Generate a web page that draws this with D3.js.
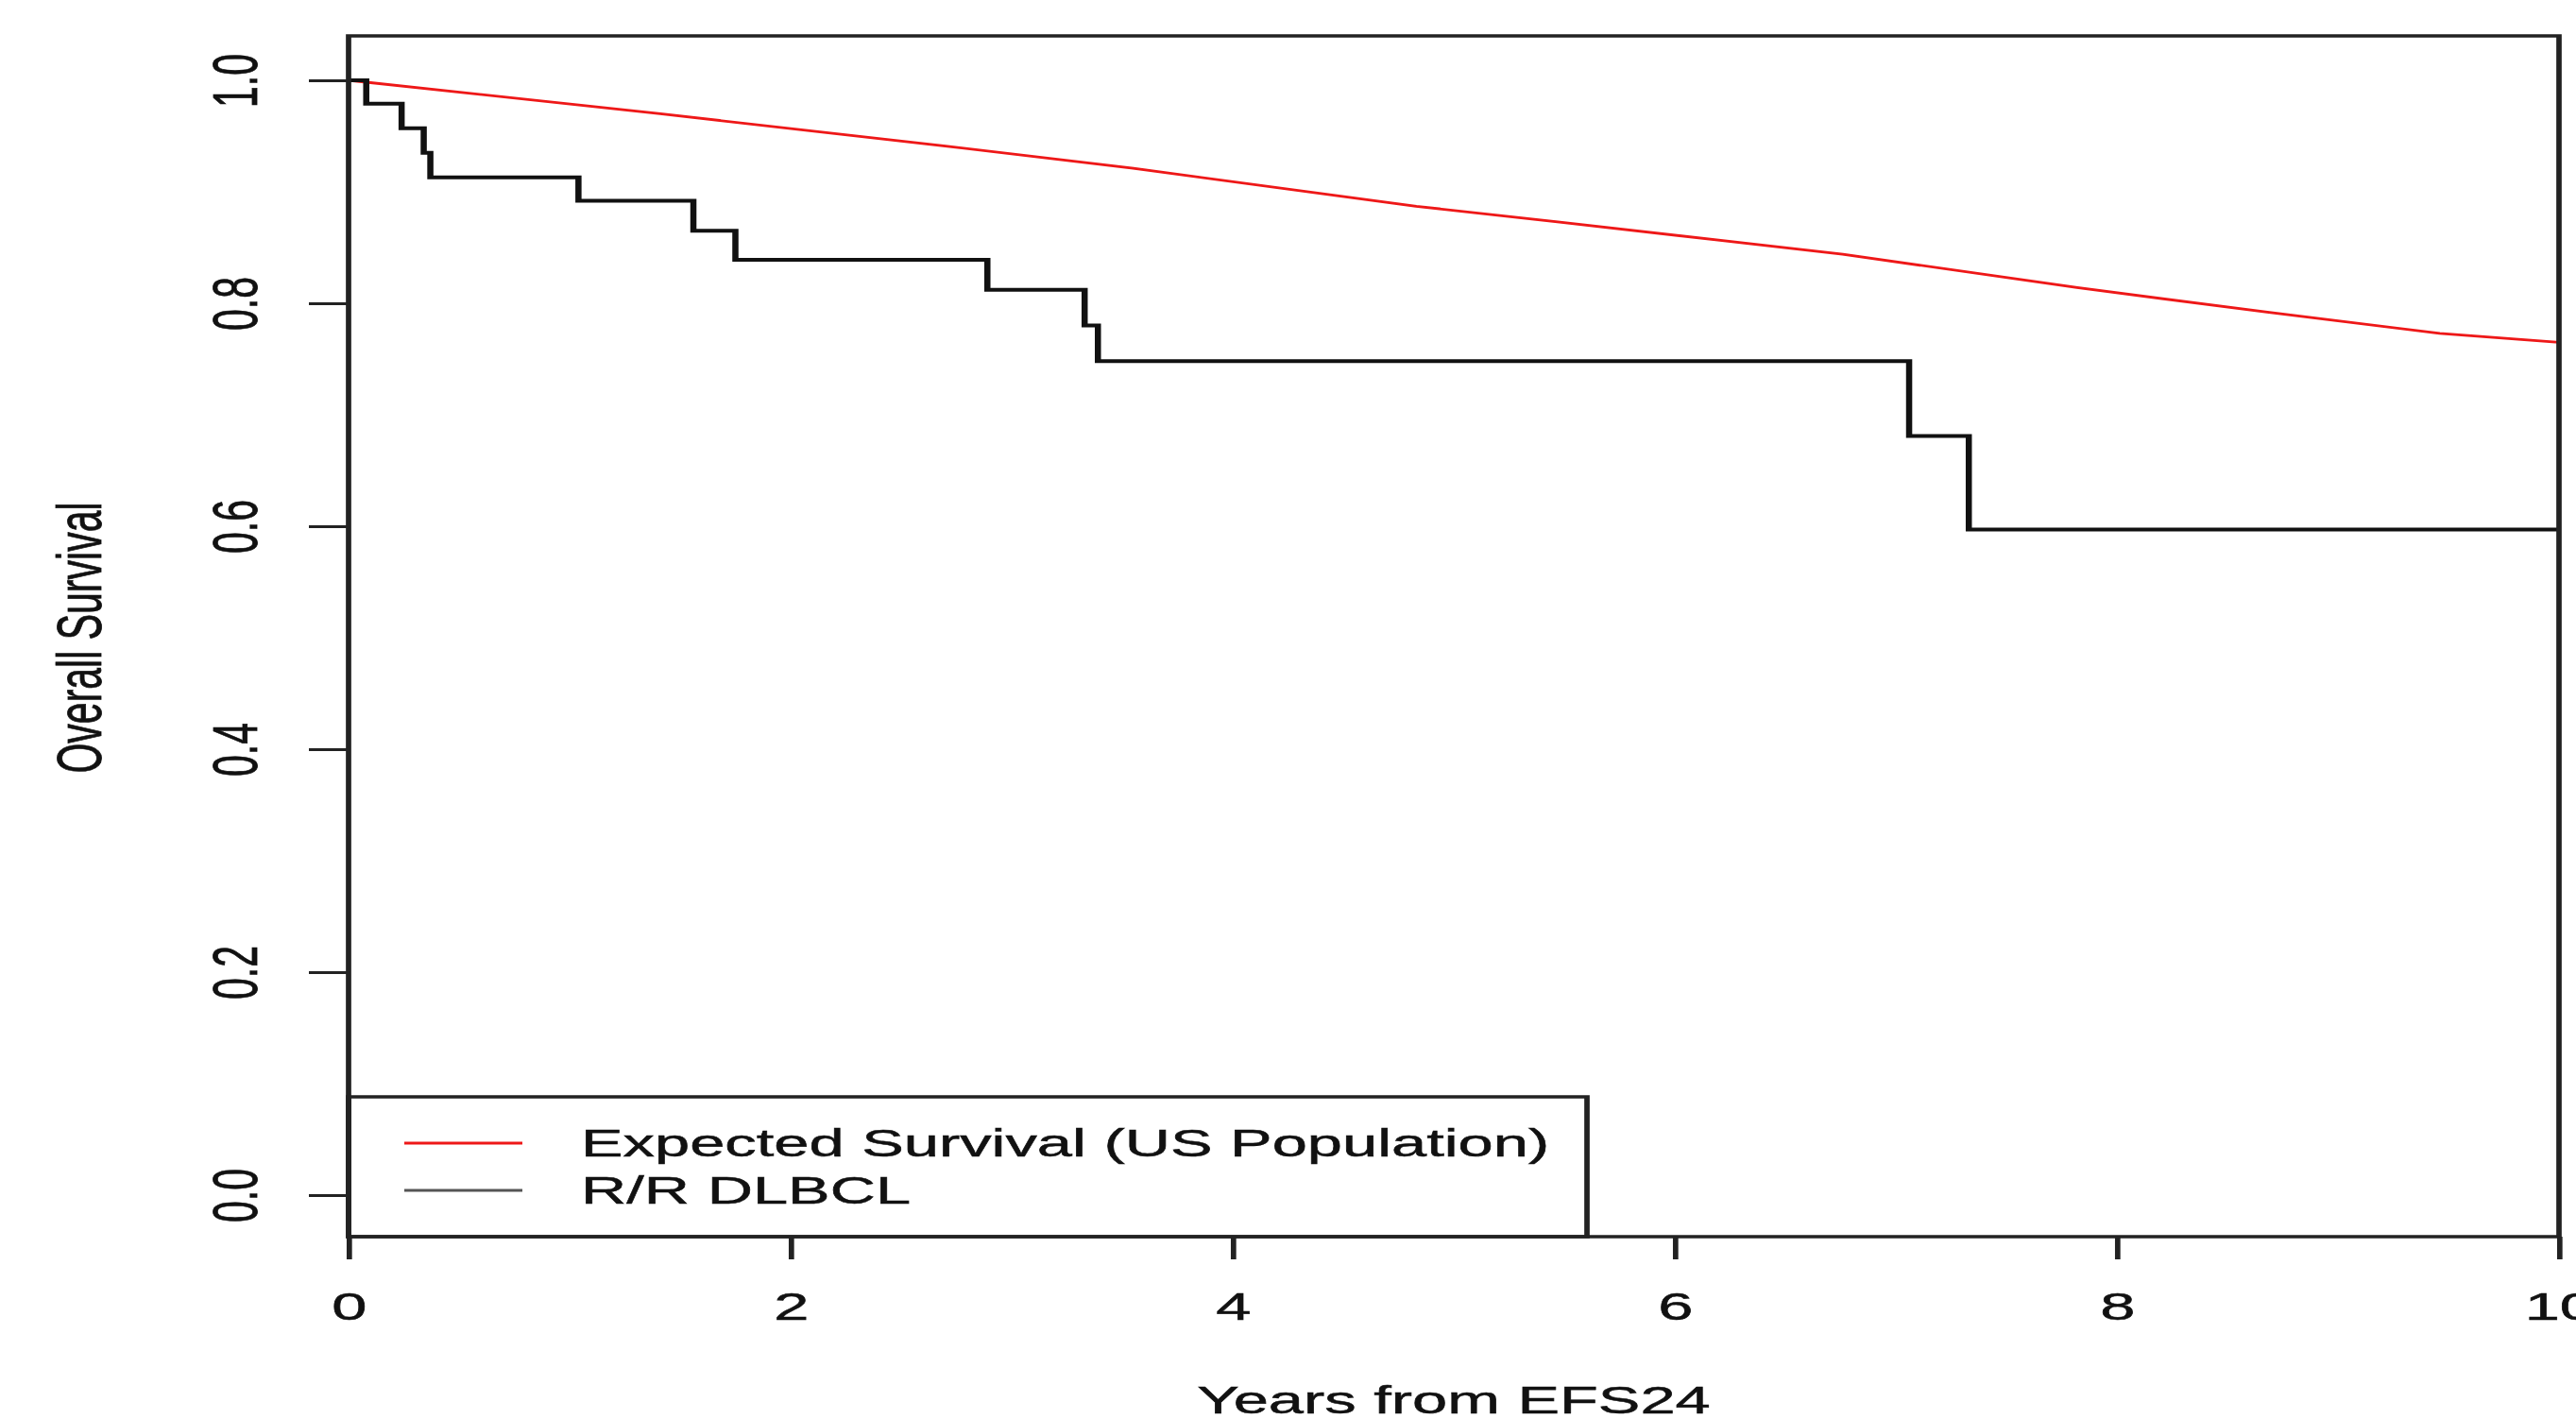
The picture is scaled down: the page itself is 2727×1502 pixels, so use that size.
<!DOCTYPE html>
<html>
<head>
<meta charset="utf-8">
<script src="https://cdn.jsdelivr.net/npm/d3@7"></script>
<style>
  body { margin: 0; background: #fff; }
  text { font-family: "Liberation Sans", Arial, sans-serif; fill: #111; stroke: #111; stroke-width: 0.5px; }
</style>
</head>
<body>
<div id="chart"></div>
<script>
// KM curve for R/R DLBCL (step after)
var kmYears = [0, 0.08, 0.24, 0.34, 0.37, 1.04, 1.56, 1.75, 2.89, 3.33, 3.39, 7.06, 7.33, 10];
var kmSurvival = [1.0, 0.979, 0.957, 0.935, 0.913, 0.892, 0.865, 0.839, 0.812, 0.780, 0.748, 0.681, 0.597, 0.597];

// expected survival, US population
var expYears = [0, 1.41, 2.70, 3.55, 4.83, 5.47, 6.76, 7.82, 8.68, 9.46, 10];
var expSurvival = [1.0, 0.970, 0.941, 0.921, 0.887, 0.873, 0.844, 0.814, 0.792, 0.773, 0.765];

var xTicks = [0, 2, 4, 6, 8, 10];
var yTicks = [0, 0.2, 0.4, 0.6, 0.8, 1.0];
var legendLabels = ["Expected Survival (US Population)", "R/R DLBCL"];
var legendColors = ["#ee1818", "#555"];

var svgWidth = 2727,
    svgHeight = 1502;

// the picture is stretched sideways, so draw in a squeezed frame and scale x back
var SX = 1.63;
var fontSize = 41;

var box = { left: 369, right: 2709, top: 38, bottom: 1309 };

var svg = d3.select("#chart")
    .append("svg")
    .attr("width", svgWidth)
    .attr("height", svgHeight);

var g = svg.append("g")
    .attr("transform", "scale(" + SX + ",1)");

var xScale = d3.scaleLinear()
    .domain([0, 10])
    .range([box.left / SX, box.right / SX]);

var yScale = d3.scaleLinear()
    .domain([0, 1])
    .range([1265, 85]);

// lines
var kmData = kmYears.map((d, i) => ({ t: d, s: kmSurvival[i] }));
var expData = expYears.map((d, i) => ({ t: d, s: expSurvival[i] }));

var kmLine = d3.line()
    .x(d => xScale(d.t))
    .y(d => yScale(d.s))
    .curve(d3.curveStepAfter);

var expLine = d3.line()
    .x(d => xScale(d.t))
    .y(d => yScale(d.s));

g.append("path")
    .attr("d", expLine(expData))
    .attr("fill", "none")
    .attr("stroke", legendColors[0])
    .attr("stroke-width", 2.8);

g.append("path")
    .attr("d", kmLine(kmData))
    .attr("fill", "none")
    .attr("stroke", "#111")
    .attr("stroke-width", 4);

// legend
var legendBox = { left: 369, right: 1680, top: 1161, bottom: 1309 };
var legendRows = [1210, 1260];

g.append("rect")
    .attr("x", legendBox.left / SX)
    .attr("y", legendBox.top)
    .attr("width", (legendBox.right - legendBox.left) / SX)
    .attr("height", legendBox.bottom - legendBox.top)
    .attr("fill", "#fff")
    .attr("stroke", "#222")
    .attr("stroke-width", 3.5);

legendLabels.forEach(function(lab, i) {
    g.append("line")
        .attr("x1", 428 / SX)
        .attr("x2", 553 / SX)
        .attr("y1", legendRows[i])
        .attr("y2", legendRows[i])
        .attr("stroke", legendColors[i])
        .attr("stroke-width", 3);
    g.append("text")
        .attr("x", 615 / SX)
        .attr("y", legendRows[i])
        .attr("dominant-baseline", "central")
        .style("font-size", fontSize + "px")
        .text(lab);
});

// plot box
g.append("rect")
    .attr("x", box.left / SX)
    .attr("y", box.top)
    .attr("width", (box.right - box.left) / SX)
    .attr("height", box.bottom - box.top)
    .attr("fill", "none")
    .attr("stroke", "#222")
    .attr("stroke-width", 3.5);

// axes
var bottomAxis = d3.axisBottom(xScale)
    .tickValues(xTicks)
    .tickSize(24)
    .tickFormat(d3.format("d"));

var xAxis = g.append("g")
    .attr("transform", "translate(0," + box.bottom + ")")
    .call(bottomAxis);
xAxis.select(".domain").remove();
xAxis.selectAll("line").attr("stroke", "#222").attr("stroke-width", 3.5);
xAxis.selectAll("text")
    .attr("dy", null)
    .attr("y", 1383 - box.bottom)
    .attr("dominant-baseline", "central")
    .style("font-size", fontSize + "px")
    .style("font-family", "'Liberation Sans', Arial, sans-serif")
    .attr("fill", "#111");

var leftAxis = d3.axisLeft(yScale)
    .tickValues(yTicks)
    .tickSize(42 / SX)
    .tickFormat(d3.format(".1f"));

var yAxis = g.append("g")
    .attr("transform", "translate(" + box.left / SX + ",0)")
    .call(leftAxis);
yAxis.select(".domain").remove();
yAxis.selectAll("line").attr("stroke", "#222").attr("stroke-width", 2.8);
yAxis.selectAll("text").remove();

yAxis.selectAll(".tick")
    .append("text")
    .attr("transform", "translate(" + ((249 - box.left) / SX) + ",0) rotate(-90)")
    .attr("text-anchor", "middle")
    .attr("dominant-baseline", "central")
    .style("font-size", fontSize + "px")
    .attr("fill", "#111")
    .text(d => d3.format(".1f")(d));

// axis titles
g.append("text")
    .attr("x", 1539 / SX)
    .attr("y", 1482)
    .attr("text-anchor", "middle")
    .attr("dominant-baseline", "central")
    .style("font-size", fontSize + "px")
    .text("Years from EFS24");

g.append("text")
    .attr("transform", "translate(" + (84 / SX) + ",675) rotate(-90)")
    .attr("text-anchor", "middle")
    .attr("dominant-baseline", "central")
    .style("font-size", fontSize + "px")
    .text("Overall Survival");
</script>
</body>
</html>
